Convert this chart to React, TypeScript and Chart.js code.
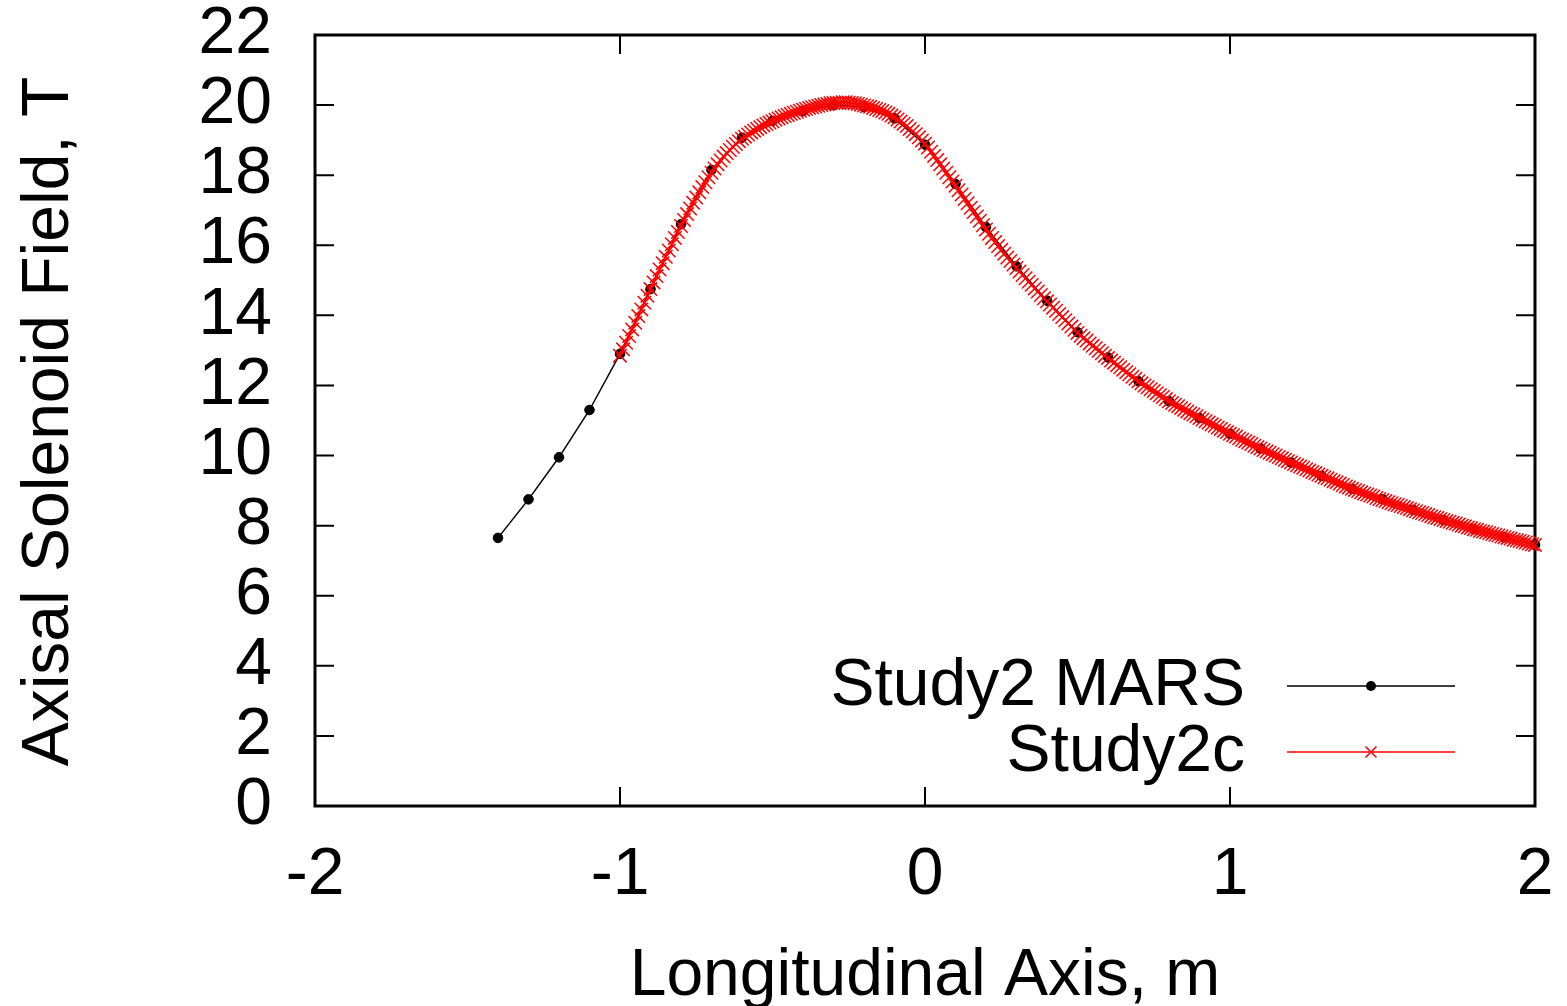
import React, { useEffect, useRef } from "react";
import { Chart, registerables } from "chart.js";

Chart.register(...registerables);

// ---------- data ----------
const MARS_X = [
  -1.4, -1.3, -1.2, -1.1, -1.0, -0.9, -0.8, -0.7, -0.6, -0.5, -0.4, -0.3,
  -0.2, -0.1, 0.0, 0.1, 0.2, 0.3, 0.4, 0.5, 0.6, 0.7, 0.8, 0.9, 1.0, 1.1,
  1.2, 1.3, 1.4, 1.5, 1.6, 1.7, 1.8, 1.9, 2.0,
];
const MARS_Y = [
  7.65, 8.75, 9.95, 11.3, 12.9, 14.75, 16.6, 18.15, 19.07, 19.55, 19.83, 20.0,
  19.95, 19.62, 18.87, 17.75, 16.52, 15.4, 14.42, 13.52, 12.8, 12.12, 11.55,
  11.07, 10.62, 10.2, 9.8, 9.42, 9.05, 8.75, 8.45, 8.16, 7.9, 7.67, 7.45,
];

// Study2c: sampled every 0.01 m from -1.00 m to 2.00 m
const STUDY2C_START = -1.0;
const STUDY2C_STEP = 0.01;
const STUDY2C_Y = [
  12.85, 13.03, 13.22, 13.41, 13.6, 13.79, 13.98, 14.17, 14.36, 14.56,
  14.75, 14.94, 15.12, 15.31, 15.49, 15.67, 15.85, 16.03, 16.21, 16.38,
  16.55, 16.72, 16.89, 17.05, 17.21, 17.36, 17.51, 17.66, 17.8, 17.94,
  18.07, 18.19, 18.31, 18.42, 18.53, 18.63, 18.72, 18.81, 18.89, 18.97,
  19.04, 19.1, 19.16, 19.22, 19.27, 19.32, 19.37, 19.42, 19.46, 19.5,
  19.54, 19.58, 19.62, 19.65, 19.69, 19.72, 19.75, 19.78, 19.81, 19.84,
  19.87, 19.89, 19.92, 19.94, 19.96, 19.98, 20.0, 20.02, 20.03, 20.05,
  20.06, 20.07, 20.07, 20.08, 20.08, 20.07, 20.06, 20.05, 20.03, 20.01,
  19.99, 19.97, 19.95, 19.92, 19.89, 19.86, 19.83, 19.79, 19.75, 19.7,
  19.65, 19.59, 19.53, 19.47, 19.4, 19.32, 19.25, 19.17, 19.08, 18.99,
  18.9, 18.79, 18.67, 18.55, 18.43, 18.31, 18.19, 18.07, 17.94, 17.82,
  17.7, 17.57, 17.45, 17.32, 17.2, 17.07, 16.95, 16.82, 16.7, 16.57,
  16.45, 16.33, 16.21, 16.09, 15.98, 15.87, 15.76, 15.65, 15.55, 15.45,
  15.35, 15.25, 15.15, 15.06, 14.96, 14.87, 14.77, 14.68, 14.58, 14.49,
  14.4, 14.31, 14.22, 14.13, 14.04, 13.95, 13.86, 13.77, 13.68, 13.59,
  13.5, 13.42, 13.35, 13.28, 13.2, 13.13, 13.06, 12.99, 12.92, 12.85,
  12.78, 12.71, 12.65, 12.58, 12.52, 12.45, 12.38, 12.32, 12.25, 12.19,
  12.12, 12.06, 12.0, 11.95, 11.89, 11.84, 11.78, 11.72, 11.67, 11.61,
  11.55, 11.5, 11.45, 11.41, 11.36, 11.31, 11.26, 11.21, 11.17, 11.12,
  11.07, 11.03, 10.98, 10.94, 10.89, 10.85, 10.8, 10.76, 10.71, 10.67,
  10.62, 10.58, 10.54, 10.49, 10.45, 10.41, 10.37, 10.33, 10.28, 10.24,
  10.2, 10.16, 10.12, 10.08, 10.04, 10.0, 9.96, 9.92, 9.88, 9.84,
  9.8, 9.76, 9.72, 9.69, 9.65, 9.61, 9.57, 9.53, 9.5, 9.46,
  9.42, 9.38, 9.35, 9.31, 9.27, 9.24, 9.2, 9.16, 9.12, 9.09,
  9.05, 9.02, 8.99, 8.95, 8.92, 8.89, 8.86, 8.83, 8.79, 8.76,
  8.73, 8.7, 8.67, 8.64, 8.61, 8.59, 8.56, 8.53, 8.5, 8.47,
  8.44, 8.41, 8.38, 8.36, 8.33, 8.3, 8.27, 8.24, 8.22, 8.19,
  8.16, 8.13, 8.11, 8.08, 8.06, 8.03, 8.0, 7.98, 7.95, 7.93,
  7.9, 7.88, 7.85, 7.83, 7.81, 7.79, 7.76, 7.74, 7.72, 7.69,
  7.67, 7.65, 7.63, 7.6, 7.58, 7.56, 7.54, 7.52, 7.49, 7.47,
  7.45,
];

const X_TICKS = [-2, -1, 0, 1, 2];
const Y_TICKS = [0, 2, 4, 6, 8, 10, 12, 14, 16, 18, 20, 22];
const X_TITLE = "Longitudinal Axis, m";
const Y_TITLE = "Axisal Solenoid Field, T";
const SERIES_NAMES = ["Study2 MARS", "Study2c"];

// ---------- styling ----------
const FONT = '"Liberation Sans", Arial, Helvetica, sans-serif';
const FONT_SIZE = 66;

const framePlugin = {
  id: "gnuFrame",
  beforeDatasetsDraw(chart: any) {
    const { ctx, chartArea: a, scales } = chart;
    ctx.save();
    ctx.strokeStyle = "#000";
    ctx.lineWidth = 2;
    const tl = 19;
    ctx.beginPath();
    for (const v of Y_TICKS) {
      const y = scales.y.getPixelForValue(v);
      ctx.moveTo(a.left, y);
      ctx.lineTo(a.left + tl, y);
      ctx.moveTo(a.right, y);
      ctx.lineTo(a.right - tl, y);
    }
    for (const v of X_TICKS) {
      const x = scales.x.getPixelForValue(v);
      ctx.moveTo(x, a.bottom);
      ctx.lineTo(x, a.bottom - tl);
      ctx.moveTo(x, a.top);
      ctx.lineTo(x, a.top + tl);
    }
    ctx.stroke();
    ctx.lineWidth = 3;
    ctx.strokeRect(a.left, a.top, a.right - a.left, a.bottom - a.top);
    ctx.restore();
  },
  afterDraw(chart: any) {
    const { ctx, chartArea: a } = chart;
    ctx.save();
    ctx.fillStyle = "#000";
    ctx.font = `${FONT_SIZE}px ${FONT}`;
    // x title
    ctx.textAlign = "center";
    ctx.textBaseline = "alphabetic";
    ctx.fillText(X_TITLE, (a.left + a.right) / 2, 995);
    // y title
    ctx.save();
    ctx.translate(68, (a.top + a.bottom) / 2 + 1);
    ctx.rotate(-Math.PI / 2);
    ctx.fillText(Y_TITLE, 0, 0);
    ctx.restore();

    // legend
    const rows = [
      { y: a.bottom - 120, color: "#000", kind: "dot" },
      { y: a.bottom - 54, color: "#ff0000", kind: "cross" },
    ];
    const x0 = a.right - 248;
    const x1 = a.right - 80;
    const xm = (x0 + x1) / 2;
    rows.forEach((r, i) => {
      ctx.textAlign = "right";
      ctx.textBaseline = "middle";
      ctx.fillStyle = "#000";
      ctx.fillText(SERIES_NAMES[i], a.right - 290, r.y + 1);
      ctx.strokeStyle = r.color;
      ctx.lineWidth = 1.5;
      ctx.beginPath();
      ctx.moveTo(x0, r.y);
      ctx.lineTo(x1, r.y);
      ctx.stroke();
      if (r.kind === "dot") {
        ctx.fillStyle = r.color;
        ctx.beginPath();
        ctx.arc(xm, r.y, 5, 0, Math.PI * 2);
        ctx.fill();
      } else {
        const d = 5.5;
        ctx.lineWidth = 1.6;
        ctx.beginPath();
        ctx.moveTo(xm - d, r.y - d);
        ctx.lineTo(xm + d, r.y + d);
        ctx.moveTo(xm - d, r.y + d);
        ctx.lineTo(xm + d, r.y - d);
        ctx.stroke();
      }
    });
    ctx.restore();
  },
};

export default function App() {
  const ref = useRef<HTMLCanvasElement>(null);

  useEffect(() => {
    if (!ref.current) return;
    const marsData = MARS_X.map((x, i) => ({ x, y: MARS_Y[i] }));
    const study2cData = STUDY2C_Y.map((y, i) => ({
      x: Math.round((STUDY2C_START + i * STUDY2C_STEP) * 100) / 100,
      y,
    }));

    const chart = new Chart(ref.current, {
      type: "line",
      data: {
        datasets: [
          {
            label: SERIES_NAMES[0],
            data: marsData,
            borderColor: "#000",
            borderWidth: 1.5,
            pointStyle: "circle",
            pointRadius: 4.8,
            pointBackgroundColor: "#000",
            pointBorderColor: "#000",
            pointBorderWidth: 1,
            tension: 0,
            clip: false as any,
            order: 2,
          },
          {
            label: SERIES_NAMES[1],
            data: study2cData,
            borderColor: "#ff0000",
            borderWidth: 2,
            pointStyle: "crossRot",
            pointRadius: 9.5,
            pointBorderColor: "#ff0000",
            pointBackgroundColor: "#ff0000",
            pointBorderWidth: 1.5,
            tension: 0,
            clip: false as any,
            order: 1,
          },
        ],
      },
      options: {
        animation: false,
        responsive: false,
        devicePixelRatio: 1,
        parsing: false as any,
        normalized: true,
        layout: { padding: { top: 35, right: 32, left: 0, bottom: 0 } },
        plugins: {
          legend: { display: false },
          tooltip: { enabled: false },
          title: { display: false },
        },
        events: [],
        scales: {
          x: {
            type: "linear",
            min: -2,
            max: 2,
            grid: { display: false, drawTicks: false },
            border: { display: false },
            afterBuildTicks: (s: any) => {
              s.ticks = X_TICKS.map((v) => ({ value: v }));
            },
            afterFit: (s: any) => {
              s.height = 200;
              s.paddingLeft = 0;
              s.paddingRight = 0;
              s.paddingTop = 0;
              s.paddingBottom = 0;
            },
            ticks: {
              color: "#000",
              padding: 30,
              maxRotation: 0,
              autoSkip: false,
              font: { family: FONT, size: FONT_SIZE },
              callback: (v: any) => String(v),
            },
          },
          y: {
            type: "linear",
            min: 0,
            max: 22,
            grid: { display: false, drawTicks: false },
            border: { display: false },
            afterBuildTicks: (s: any) => {
              s.ticks = Y_TICKS.map((v) => ({ value: v }));
            },
            afterFit: (s: any) => {
              s.width = 315;
              s.paddingLeft = 0;
              s.paddingRight = 0;
              s.paddingTop = 0;
              s.paddingBottom = 0;
            },
            ticks: {
              color: "#000",
              padding: 43,
              autoSkip: false,
              font: { family: FONT, size: FONT_SIZE },
              callback: (v: any) => String(v),
            },
          },
        },
      },
      plugins: [framePlugin],
    });
    return () => chart.destroy();
  }, []);

  return (
    <div
      style={{
        position: "fixed",
        left: 0,
        top: 0,
        width: 1567,
        height: 1006,
        background: "#fff",
      }}
    >
      <canvas
        ref={ref}
        width={1567}
        height={1006}
        style={{ display: "block", width: 1567, height: 1006 }}
      />
    </div>
  );
}
